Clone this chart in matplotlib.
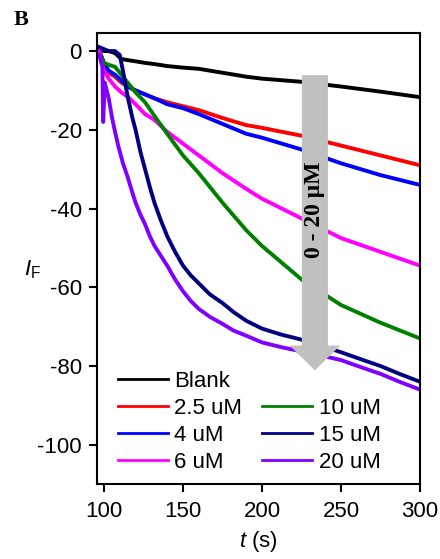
import matplotlib
matplotlib.use('Agg')
import matplotlib.pyplot as plt
from matplotlib.patches import FancyArrow

plt.rcParams['font.family'] = ['Liberation Sans', 'DejaVu Sans']
plt.rcParams['mathtext.fontset'] = 'custom'
plt.rcParams['mathtext.rm'] = 'Liberation Sans'
plt.rcParams['mathtext.it'] = 'Liberation Sans:italic'
plt.rcParams['axes.unicode_minus'] = False

# values (time in s, fluorescence change)
t_blank = [97, 100, 103, 107, 111, 115, 120, 126, 132, 140, 150, 160, 175, 190, 200, 225, 250, 275, 300]
y_blank = [0.5, 0, 0, -0.5, -2, -2.3, -2.6, -3, -3.3, -3.8, -4.2, -4.5, -5.5, -6.5, -7, -7.8, -9, -10.3, -11.7]

t_25 = [97, 100, 103, 107, 111, 115, 120, 126, 132, 140, 150, 160, 175, 190, 200, 225, 250, 275, 300]
y_25 = [0, -3, -5.5, -6.5, -8, -9, -10, -11, -12, -13, -14, -15, -17, -18.8, -19.5, -21.5, -24, -26.5, -29]

t_4 = [97, 100, 103, 107, 111, 115, 120, 126, 132, 140, 150, 160, 175, 190, 200, 225, 250, 275, 300]
y_4 = [0, -3, -5, -6, -7.5, -9, -10, -11, -12, -13.5, -14.5, -16, -18.5, -21, -22, -25, -28.5, -31.5, -34]

t_6 = [97, 100, 103, 107, 111, 115, 120, 126, 132, 140, 150, 160, 175, 190, 200, 225, 250, 275, 300]
y_6 = [0, -5, -7, -9, -10.5, -11.6, -13.5, -16, -17.5, -20.5, -23.5, -26.5, -31, -35, -37.5, -42.5, -47.5, -51, -54.5]

t_10 = [97, 100, 103, 107, 111, 115, 120, 126, 132, 140, 150, 160, 175, 190, 200, 225, 250, 275, 300]
y_10 = [-1, -3, -3.5, -4, -6, -8, -10.5, -13, -16.5, -21, -26.5, -31, -38.5, -45.5, -49.5, -58, -64.5, -69, -73]

t_15 = [97, 100, 103, 107, 110, 112, 115, 118, 120, 123, 126, 129, 132, 136, 140, 145, 150, 155, 160,
        167, 175, 182, 190, 200, 212, 225, 237, 250, 262, 275, 287, 300]
y_15 = [1, 0.5, 0, 0, -1, -5, -11.6, -17, -20, -25.5, -30, -34.5, -38.6, -43, -47, -51, -54.5, -57, -59,
        -61.8, -64, -66.3, -68.5, -70.5, -72, -73.3, -74.8, -76.5, -78.2, -80, -82, -84]

t_20 = [97, 99, 99.5, 100.5, 103, 105, 107, 109, 112, 115, 118, 120, 123, 126, 129, 132, 136, 140, 145,
        150, 155, 160, 167, 175, 182, 190, 200, 212, 225, 237, 250, 262, 275, 287, 300]
y_20 = [-1, -4, -18, -8, -12, -16.7, -20.5, -24, -28.5, -32, -36, -38.5, -41.5, -44, -47, -49.5, -52, -54.5, -58,
        -61, -63.5, -65.5, -67.5, -69.3, -71, -72.3, -74, -75.2, -76.3, -77.3, -78.5, -80.2, -82, -84, -86]

labels = ['Blank', '2.5 uM', '4 uM', '6 uM', '10 uM', '15 uM', '20 uM']
colors = ['black', '#ff0000', '#0000ff', '#ff00ff', '#008000', '#000080', '#8000ff']
series = [(t_blank, y_blank), (t_25, y_25), (t_4, y_4), (t_6, y_6),
          (t_10, y_10), (t_15, y_15), (t_20, y_20)]

fig = plt.figure(figsize=(4.4, 5.59), dpi=100)
ax = fig.add_axes([0.2205, 0.134, 0.734, 0.807])

handles = []
for (t, y), lab, c in zip(series, labels, colors):
    h, = ax.plot(t, y, color=c, lw=2.8, label=lab, solid_joinstyle='round')
    handles.append(h)

# grey arrow marking increasing concentration
arrow = FancyArrow(233.5, -6.1, 0, -75, width=16.5, head_width=32,
                   head_length=6.3, length_includes_head=True,
                   color='#c0c0c0', lw=0, zorder=5)
ax.add_patch(arrow)
ax.text(233.5, -40.4, '0 - 20 \u03bcM', rotation=90, ha='center', va='center',
        fontsize=17, fontweight='bold', family='Liberation Serif', zorder=6)

ax.set_xlim(95.6, 300)
ax.set_ylim(-110, 4.6)
ax.set_xticks([100, 150, 200, 250, 300])
ax.set_yticks([0, -20, -40, -60, -80, -100])
ax.tick_params(axis='both', direction='out', length=6, width=1.5,
               labelsize=16, top=False, right=False)
ax.tick_params(axis='x', pad=6)
ax.tick_params(axis='y', pad=5)
for sp in ax.spines.values():
    sp.set_linewidth(1.5)

ax.set_xlabel(r'$t$ (s)', fontsize=16, labelpad=5)
ax.set_ylabel(r'$I$$_\mathrm{F}$', fontsize=16, rotation=0)
ax.yaxis.set_label_coords(-0.2, 0.45)

# legend: Blank alone on the first row, then two columns
blank_handle = plt.Line2D([], [], alpha=0)
leg_handles = [handles[0], handles[1], handles[2], handles[3],
               blank_handle, handles[4], handles[5], handles[6]]
leg_labels = [labels[0], labels[1], labels[2], labels[3],
              '', labels[4], labels[5], labels[6]]
ax.legend(leg_handles, leg_labels, ncol=2, frameon=False, fontsize=16,
          loc='lower left', bbox_to_anchor=(0.03, 0.0), borderaxespad=0.1,
          handlelength=2.25, handletextpad=0.3, labelspacing=0.27,
          columnspacing=0.9)
for line in ax.get_legend().get_lines():
    line.set_linewidth(2)

fig.text(0.03, 0.965, 'B', fontsize=16, fontweight='bold',
         family='Liberation Serif', va='center', ha='left')

fig.savefig('out.png', dpi=100)
